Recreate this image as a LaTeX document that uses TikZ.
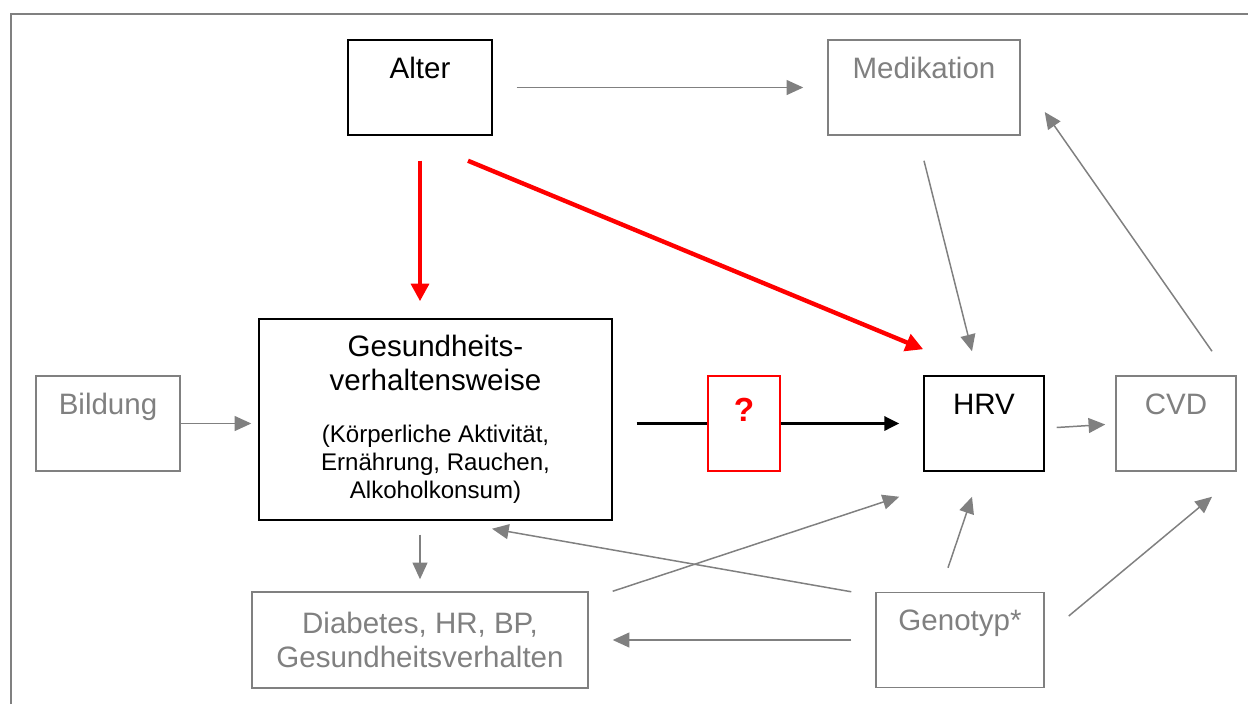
\documentclass[tikz,border=0pt]{standalone}
\usepackage{fontspec}
\setmainfont{Liberation Sans}
\definecolor{dagred}{RGB}{255,0,0}
\definecolor{daggrey}{RGB}{128,128,128}
\usetikzlibrary{arrows.meta,calc}
\newcommand{\kleinschrift}{\fontsize{13.7}{15.3}\selectfont}

\begin{document}
\begin{tikzpicture}[x=0.02cm,y=-0.02cm,
    varbox/.style={draw,line width=0.85pt,inner sep=0pt,
        text height=0.76cm,text depth=1.14cm,font=\fontsize{16.8}{19.4}\selectfont},
    blackbox/.style={varbox,black},
    greybox/.style={varbox,daggrey},
    greyarrow/.style={draw=daggrey,line width=0.85pt,-{Triangle[length=9.5pt,width=8.5pt]},color=daggrey},
    redarrow/.style={draw=dagred,line width=2.5pt,-{Triangle[length=10pt,width=10pt]},color=dagred},
    blackarrow/.style={draw=black,line width=1.7pt,-{Triangle[length=8.5pt,width=8pt]}}]
  \useasboundingbox (0,0) rectangle (1248,704);
  %% outer frame
  \draw[daggrey,line width=1.2pt] (11,704) |- (1248,14);

  %% Boxes
  \node[blackbox,minimum width=2.88cm] (Alter) at (420,87.5) {Alter};
  \node[greybox,minimum width=3.84cm] (Medikation) at (924,87.5) {Medikation};
  \node[greybox,minimum width=2.88cm] (Bildung) at (108,423.5) {Bildung};
  \node[draw,black,line width=0.85pt,minimum width=7.06cm,minimum height=4.02cm,
        align=center,font=\fontsize{16.8}{19.4}\selectfont]
        (Gesund) at (435.5,419.5)
        {Gesundheits-\\verhaltensweise\\[10pt]\kleinschrift(Körperliche Aktivität,\\[-3.5pt]
         \kleinschrift Ernährung, Rauchen,\\[-3.5pt]\kleinschrift Alkoholkonsum)};
  \node[varbox,dagred,minimum width=1.44cm,text height=0.9cm,text depth=1cm,
        font=\fontsize{19}{23}\selectfont\bfseries] (Frage) at (744,423.5) {?};
  \node[blackbox,minimum width=2.4cm] (HRV) at (984,423.5) {HRV};
  \node[greybox,minimum width=2.4cm] (CVD) at (1176,423.5) {CVD};
  \node[draw,daggrey,line width=0.85pt,minimum width=6.72cm,minimum height=1.92cm,
        align=center,font=\fontsize{16.8}{19.4}\selectfont]
        (Diabetes) at (420,640) {Diabetes, HR, BP,\\Gesundheitsverhalten};
  \node[greybox,minimum width=3.36cm] (Genotyp) at (960,640) {Genotyp*};

  %% Alter
  \draw[greyarrow,shorten <=0.48cm,shorten >=0.48cm] (Alter) -- (Medikation);
  \draw[redarrow,shorten <=0.5cm,shorten >=0.34cm] (Alter.south) -- (Alter.south |- Gesund.north);
  \draw[redarrow] ($(Alter.south)+(48,25)$) -- ($(HRV.north west)+(0,-26)$);
  %% Medikation, CVD
  \draw[greyarrow] ($(Medikation.south)+(0,25)$) -- ($(HRV.north)+(-12,-24)$);
  \draw[greyarrow] ($(CVD.north)+(36,-24)$) -- ($(Medikation.east)+(24,24.5)$);
  %% middle row
  \draw[greyarrow,shorten >=0.14cm] (Bildung.east) -- (Bildung.east -| Gesund.west);
  \draw[black,line width=1.7pt,shorten <=0.48cm] (Frage.west -| Gesund.east) -- (Frage.west);
  \draw[blackarrow,shorten >=0.48cm] (Frage.east) -- (Frage -| HRV.west);
  \draw[greyarrow] ($(HRV.east)+(12,4)$) -- ($(CVD.west)+(-10,1)$);
  %% lower row
  \draw[greyarrow,shorten <=0.28cm,shorten >=0.24cm] (Diabetes.north |- Gesund.south) -- (Diabetes.north);
  \draw[greyarrow] ($(Genotyp.north west)+(-24,0)$) -- ($(Gesund.south)+(56.5,8)$);
  \draw[greyarrow,shorten <=0.48cm,shorten >=0.48cm] (Genotyp.west) -- (Diabetes.east);
  \draw[greyarrow] ($(Diabetes.north east)+(24,0)$) -- ($(HRV.south west)+(-24,25)$);
  \draw[greyarrow] ($(Genotyp.north)+(-12,-24)$) -- ($(HRV.south)+(-12,25)$);
  \draw[greyarrow] ($(Genotyp.east)+(24,-24)$) -- ($(CVD.south)+(36,25)$);
\end{tikzpicture}
\end{document}
